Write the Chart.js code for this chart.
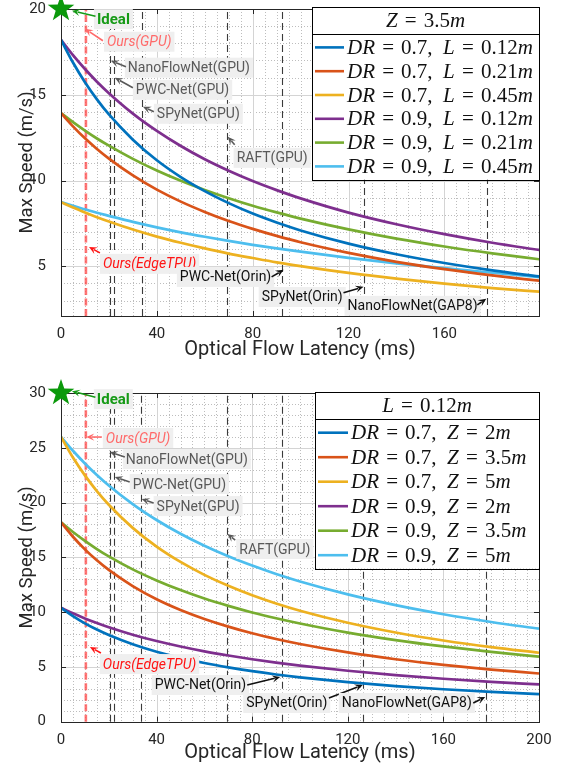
<!DOCTYPE html>
<html>
<head>
<meta charset="utf-8">
<script src="https://cdn.jsdelivr.net/npm/chart.js@4.4.1/dist/chart.umd.min.js"></script>
<style>
  body{margin:0;background:#fff;width:561px;height:766px;overflow:hidden;position:relative;}
  .panel{position:absolute;left:0;width:561px;}
</style>
</head>
<body>
<div class="panel" style="top:0;height:362px"><canvas id="chartTop"></canvas></div>
<div class="panel" style="top:362px;height:404px"><canvas id="chartBottom"></canvas></div>
<script>
// latency samples (ms) the curves were read at
const latencyMs = [0,5,10,15,20,30,40,50,60,70,80,90,100,120,140,160,180,200];

// top panel, Z = 3.5m
const topDR07_L012 = [18.20,16.88,15.73,14.73,13.85,12.38,11.18,10.20,9.38,8.68,8.07,7.55,7.09,6.32,5.70,5.19,4.76,4.40];
const topDR07_L021 = [13.93,13.16,12.46,11.84,11.28,10.30,9.47,8.77,8.17,7.64,7.18,6.77,6.40,5.78,5.26,4.83,4.47,4.15];
const topDR07_L045 = [8.74,8.43,8.13,7.86,7.61,7.14,6.73,6.37,6.04,5.74,5.48,5.23,5.01,4.61,4.28,3.99,3.73,3.51];
const topDR09_L012 = [18.20,17.31,16.50,15.76,15.09,13.90,12.89,12.01,11.24,10.57,9.97,9.44,8.96,8.13,7.45,6.87,6.37,5.94];
const topDR09_L021 = [13.93,13.40,12.91,12.45,12.03,11.26,10.58,9.98,9.45,8.97,8.53,8.14,7.78,7.15,6.61,6.15,5.75,5.40];
const topDR09_L045 = [8.74,8.52,8.32,8.12,7.94,7.59,7.27,6.98,6.72,6.48,6.25,6.04,5.85,5.49,5.17,4.89,4.62,4.36];

// bottom panel, L = 0.12m
const botDR07_Z2  = [10.39,9.64,8.98,8.41,7.91,7.07,6.39,5.83,5.36,4.96,4.61,4.31,4.05,3.61,3.25,2.96,2.72,2.51];
const botDR07_Z35 = [18.20,16.88,15.73,14.73,13.85,12.38,11.18,10.20,9.38,8.68,8.07,7.55,7.09,6.32,5.70,5.19,4.76,4.40];
const botDR07_Z5  = [26.00,24.11,22.48,21.05,19.80,17.69,15.98,14.58,13.40,12.40,11.54,10.79,10.13,9.03,8.14,7.41,6.80,6.29];
const botDR09_Z2  = [10.40,9.89,9.43,9.01,8.62,7.94,7.36,6.86,6.42,6.04,5.70,5.39,5.12,4.65,4.25,3.92,3.64,3.40];
const botDR09_Z35 = [18.20,17.31,16.50,15.76,15.09,13.90,12.89,12.01,11.24,10.57,9.97,9.44,8.96,8.13,7.45,6.87,6.37,5.94];
const botDR09_Z5  = [26.00,24.73,23.57,22.52,21.56,19.86,18.41,17.15,16.06,15.10,14.25,13.48,12.80,11.62,10.64,9.81,9.10,8.49];

const legendDR = ['0.7','0.7','0.7','0.9','0.9','0.9'];
const topLegendL = ['0.12','0.21','0.45','0.12','0.21','0.45'];
const botLegendZ = ['2','3.5','5','2','3.5','5'];

// method latencies (ms) marked by vertical lines
const oursEdgeLatency = 10.4;
const otherLatencies = [20.4, 22.2, 33.6, 69.4, 92.4, 126.4, 178];

const lineColors = ['#0072BD','#D95319','#EDB120','#7E2F8E','#77AC30','#4DBEEE'];

const topNotes = [
  {text:'Ideal', kind:'ideal', at:[15.0,19.41], tail:[14.4,19.58], tip:[4.6,19.9]},
  {text:'Ours(GPU)', kind:'oursGpu', at:[19.2,18.09], tail:[17.5,18.15], tip:[10.0,18.85]},
  {text:'NanoFlowNet(GPU)', kind:'gpu', at:[27.9,16.58], tail:[27.1,16.63], tip:[20.8,16.98]},
  {text:'PWC-Net(GPU)', kind:'gpu', at:[31.25,15.29], tail:[30.0,15.41], tip:[22.5,15.99]},
  {text:'SPyNet(GPU)', kind:'gpu', at:[40,13.89], tail:[38.75,14.01], tip:[34.2,14.30]},
  {text:'RAFT(GPU)', kind:'gpu', at:[73.3,11.32], tail:[72.5,12.08], tip:[69.6,12.55]},
  {text:'Ours(EdgeTPU)', kind:'edge', at:[17.5,5.14], tail:[16.25,5.78], tip:[11.7,6.13]},
  {text:'PWC-Net(Orin)', kind:'dev', at:[49.6,4.38], tail:[87.9,4.38], tip:[92.9,4.79]},
  {text:'SPyNet(Orin)', kind:'dev', at:[83.75,3.21], tail:[117.9,3.45], tip:[126.25,3.80]},
  {text:'NanoFlowNet(GAP8)', kind:'dev', at:[119.6,2.69], tail:[173.75,2.75], tip:[177.5,3.10]}
];
const bottomNotes = [
  {text:'Ideal', kind:'ideal', at:[15.0,29.44], tail:[14.4,29.62], tip:[4.6,30.17]},
  {text:'Ours(GPU)', kind:'oursGpu', at:[18.75,25.89], tail:[17.1,25.98], tip:[10.6,25.98]},
  {text:'NanoFlowNet(GPU)', kind:'gpu', at:[27.1,23.97], tail:[26.7,24.15], tip:[20.4,24.61]},
  {text:'PWC-Net(GPU)', kind:'gpu', at:[30,21.69], tail:[28.75,21.87], tip:[22.5,22.33]},
  {text:'SPyNet(GPU)', kind:'gpu', at:[40,19.68], tail:[38.75,19.96], tip:[33.75,20.32]},
  {text:'RAFT(GPU)', kind:'gpu', at:[74.6,15.76], tail:[72.9,16.58], tip:[69.6,17.13]},
  {text:'Ours(EdgeTPU)', kind:'edge', at:[17.5,5.26], tail:[16.7,6.27], tip:[12.1,6.82]},
  {text:'PWC-Net(Orin)', kind:'dev', at:[39.2,3.35], tail:[77.9,3.35], tip:[91.7,4.08]},
  {text:'SPyNet(Orin)', kind:'dev', at:[77.5,1.71], tail:[112.1,2.16], tip:[126.25,3.35]},
  {text:'NanoFlowNet(GAP8)', kind:'dev', at:[117.5,1.71], tail:[172.5,1.71], tip:[177.5,2.26]}
];

const noteStyle = {
  ideal:   {color:'#169a16', font:'bold 15px Roboto'},
  oursGpu: {color:'#ff6a6a', font:'italic 14px Roboto'},
  gpu:     {color:'#595959', font:'14px Roboto'},
  edge:    {color:'#ff1414', font:'italic 14px Roboto'},
  dev:     {color:'#111111', font:'14px Roboto'}
};

const AXIS = '#262626';
const SERIF = '"Liberation Serif"';
const OP_GAP = 0.34;

function mathWidth(ctx, segs, size){
  let w = 0;
  for (const [t,k] of segs){
    if (k === 's'){ w += size*t; continue; }
    ctx.font = (k==='i' ? 'italic ' : '') + size + 'px ' + SERIF;
    w += ctx.measureText(t).width + (k==='o' ? size*OP_GAP*2 : 0);
  }
  return w;
}

function drawMath(ctx, segs, x, y, size){
  let cx = x;
  ctx.textBaseline = 'middle'; ctx.textAlign = 'left'; ctx.fillStyle = '#111';
  for (const [t,k] of segs){
    if (k === 's'){ cx += size*t; continue; }
    ctx.font = (k==='i' ? 'italic ' : '') + size + 'px ' + SERIF;
    if (k === 'o') cx += size*OP_GAP;
    ctx.fillText(t, cx, y);
    cx += ctx.measureText(t).width + (k==='o' ? size*OP_GAP : 0);
  }
}

function arrow(ctx, x0, y0, x1, y1, color){
  const ang = Math.atan2(y1-y0, x1-x0), len = 8, half = 3.6;
  ctx.strokeStyle = color; ctx.fillStyle = color; ctx.lineWidth = 1.6; ctx.setLineDash([]);
  ctx.beginPath(); ctx.moveTo(x0,y0);
  ctx.lineTo(x1 - Math.cos(ang)*len*0.7, y1 - Math.sin(ang)*len*0.7); ctx.stroke();
  ctx.beginPath();
  ctx.moveTo(x1, y1);
  ctx.lineTo(x1 - Math.cos(ang)*len - Math.sin(ang)*half, y1 - Math.sin(ang)*len + Math.cos(ang)*half);
  ctx.lineTo(x1 - Math.cos(ang)*len*0.6, y1 - Math.sin(ang)*len*0.6);
  ctx.lineTo(x1 - Math.cos(ang)*len + Math.sin(ang)*half, y1 - Math.sin(ang)*len - Math.cos(ang)*half);
  ctx.closePath(); ctx.fill();
}

function star(ctx, cx, cy, r){
  ctx.beginPath();
  for (let i=0;i<10;i++){
    const rr = i%2 ? r*0.4 : r;
    const a = -Math.PI/2 + i*Math.PI/5;
    ctx.lineTo(cx + rr*Math.cos(a), cy + rr*Math.sin(a));
  }
  ctx.closePath();
  ctx.fillStyle = '#0b990b'; ctx.fill();
}

function matlabLook(p){
  return {
    id: 'matlabLook',
    beforeDatasetsDraw(chart){
      const {ctx, chartArea:a, scales:{x, y}} = chart;
      ctx.save();
      ctx.lineWidth = 1;
      // minor dotted grid
      ctx.strokeStyle = '#bdbdbd'; ctx.setLineDash([1,2]);
      for (let v = 5; v < x.max; v += 5){
        if (v % 40 === 0) continue;
        const px = Math.round(x.getPixelForValue(v)) + 0.5;
        ctx.beginPath(); ctx.moveTo(px, a.top); ctx.lineTo(px, a.bottom); ctx.stroke();
      }
      for (let v = Math.ceil(y.min); v < y.max; v += 1){
        if (v % 5 === 0) continue;
        const py = Math.round(y.getPixelForValue(v)) + 0.5;
        ctx.beginPath(); ctx.moveTo(a.left, py); ctx.lineTo(a.right, py); ctx.stroke();
      }
      // major grid
      ctx.setLineDash([]); ctx.strokeStyle = '#d4d4d4';
      p.xTicks.forEach(v => {
        const px = Math.round(x.getPixelForValue(v)) + 0.5;
        ctx.beginPath(); ctx.moveTo(px, a.top); ctx.lineTo(px, a.bottom); ctx.stroke();
      });
      p.yTicks.forEach(v => {
        const py = Math.round(y.getPixelForValue(v)) + 0.5;
        ctx.beginPath(); ctx.moveTo(a.left, py); ctx.lineTo(a.right, py); ctx.stroke();
      });
      // latency markers
      ctx.strokeStyle = '#3a3a3a'; ctx.lineWidth = 1.1; ctx.setLineDash([7,4]);
      otherLatencies.forEach(v => {
        const px = Math.round(x.getPixelForValue(v)) + 0.5;
        ctx.beginPath(); ctx.moveTo(px, a.bottom); ctx.lineTo(px, a.top); ctx.stroke();
      });
      ctx.strokeStyle = 'rgba(255,70,70,0.75)'; ctx.lineWidth = 2.6; ctx.setLineDash([7,3.5]);
      const ox = x.getPixelForValue(oursEdgeLatency);
      ctx.beginPath(); ctx.moveTo(ox, a.bottom); ctx.lineTo(ox, a.top); ctx.stroke();
      ctx.restore();
    },
    afterDatasetsDraw(chart){
      const {ctx, chartArea:a, scales:{x, y}} = chart;
      ctx.save();
      ctx.setLineDash([]);
      // axes box + inward ticks
      ctx.strokeStyle = AXIS; ctx.lineWidth = 1;
      ctx.strokeRect(Math.round(a.left)+0.5, Math.round(a.top)+0.5, Math.round(a.right-a.left), Math.round(a.bottom-a.top));
      p.xTicks.forEach(v => {
        const px = Math.round(x.getPixelForValue(v)) + 0.5;
        ctx.beginPath(); ctx.moveTo(px, a.bottom); ctx.lineTo(px, a.bottom-5);
        ctx.moveTo(px, a.top); ctx.lineTo(px, a.top+5); ctx.stroke();
      });
      p.yTicks.forEach(v => {
        const py = Math.round(y.getPixelForValue(v)) + 0.5;
        ctx.beginPath(); ctx.moveTo(a.left, py); ctx.lineTo(a.left+5, py);
        ctx.moveTo(a.right, py); ctx.lineTo(a.right-5, py); ctx.stroke();
      });
      // annotations
      p.notes.forEach(n => {
        const st = noteStyle[n.kind];
        ctx.font = st.font;
        const w = ctx.measureText(n.text).width;
        const tx = x.getPixelForValue(n.at[0]), ty = y.getPixelForValue(n.at[1]);
        ctx.fillStyle = '#efefef'; ctx.fillRect(tx-3, ty-10, w+6, 20);
        ctx.fillStyle = st.color; ctx.textBaseline = 'middle'; ctx.textAlign = 'left';
        ctx.fillText(n.text, tx, ty+1);
        arrow(ctx, x.getPixelForValue(n.tail[0]), y.getPixelForValue(n.tail[1]),
              x.getPixelForValue(n.tip[0]), y.getPixelForValue(n.tip[1]), st.color);
      });
      star(ctx, x.getPixelForValue(0), y.getPixelForValue(y.max), 14);
      // legend
      const L = p.legend, size = L.fontSize;
      const top = a.top + L.topOff, right = a.right;
      const bottom = top + L.titleH + 13.4 + (L.entries.length-1)*L.rowH + 13.3;
      ctx.fillStyle = '#fff'; ctx.fillRect(L.left, top, right-L.left, bottom-top);
      ctx.strokeStyle = '#000'; ctx.lineWidth = 1;
      ctx.strokeRect(L.left+0.5, Math.round(top)+0.5, right-L.left, Math.round(bottom-top));
      ctx.beginPath(); ctx.moveTo(L.left, Math.round(top+L.titleH)+0.5); ctx.lineTo(right, Math.round(top+L.titleH)+0.5); ctx.stroke();
      const tw = mathWidth(ctx, L.title, size);
      drawMath(ctx, L.title, (L.left+right)/2 - tw/2, top + L.titleH/2 + 1, size);
      L.entries.forEach((segs, i) => {
        const cy = top + L.titleH + 13.4 + i*L.rowH;
        ctx.strokeStyle = lineColors[i]; ctx.lineWidth = 2.6;
        ctx.beginPath(); ctx.moveTo(L.left+3, cy); ctx.lineTo(L.left+3+L.sample, cy); ctx.stroke();
        drawMath(ctx, segs, L.left+6+L.sample, cy+1, size);
      });
      ctx.restore();
    }
  };
}

function buildConfig(p){
  return {
    type: 'line',
    data: {
      datasets: p.series.map((vals, i) => ({
        data: latencyMs.map((t, j) => ({x: t, y: vals[j]})),
        borderColor: lineColors[i],
        borderWidth: 2.7,
        pointRadius: 0,
        fill: false,
        cubicInterpolationMode: 'monotone'
      }))
    },
    options: {
      responsive: true,
      maintainAspectRatio: false,
      animation: false,
      layout: {padding: {left: 16, right: 22, top: p.padTop, bottom: p.padBottom}},
      plugins: {legend: {display: false}, tooltip: {enabled: false}},
      scales: {
        x: {
          type: 'linear', min: 0, max: p.xMax,
          grid: {display: false}, border: {display: false},
          afterBuildTicks: s => { s.ticks = p.xTicks.map(v => ({value: v})); },
          afterFit: s => { s.height = p.xAxisH; s.paddingLeft = 0; s.paddingRight = 0; },
          ticks: {font: {family: 'Roboto', size: 15, lineHeight: 1}, color: AXIS, padding: 3, maxRotation: 0, autoSkip: false},
          title: {display: true, text: 'Optical Flow Latency (ms)', font: {family: 'Roboto', size: 20}, color: AXIS, padding: 0}
        },
        y: {
          type: 'linear', min: p.yMin, max: p.yMax,
          grid: {display: false}, border: {display: false},
          afterBuildTicks: s => { s.ticks = p.yTicks.map(v => ({value: v})); },
          afterFit: s => { s.width = 45; s.paddingTop = 0; s.paddingBottom = 0; },
          ticks: {font: {family: 'Roboto', size: 15, lineHeight: 1}, color: AXIS, padding: 7, autoSkip: false},
          title: {display: true, text: 'Max Speed (m/s)', font: {family: 'Roboto', size: 18.5}, color: AXIS, padding: 0}
        }
      }
    },
    plugins: [matlabLook(p)]
  };
}

const topPanel = {
  series: [topDR07_L012, topDR07_L021, topDR07_L045, topDR09_L012, topDR09_L021, topDR09_L045],
  xMax: 199.5, xTicks: [0,40,80,120,160],
  yMin: 2.1, yMax: 20, yTicks: [5,10,15,20],
  padTop: 9, padBottom: 0, xAxisH: 46,
  notes: topNotes,
  legend: {
    left: 312, topOff: -2, titleH: 27, rowH: 23.8, sample: 29, fontSize: 21,
    title: [['Z','i'],['=','o'],['3.5','r'],['m','i']],
    entries: legendDR.map((d, i) => [['DR','i'],['=','o'],[d+',','r'],[0.5,'s'],['L','i'],['=','o'],[topLegendL[i],'r'],['m','i']])
  }
};
const bottomPanel = {
  series: [botDR07_Z2, botDR07_Z35, botDR07_Z5, botDR09_Z2, botDR09_Z35, botDR09_Z5],
  xMax: 200, xTicks: [0,40,80,120,160,200],
  yMin: 0, yMax: 30, yTicks: [0,5,10,15,20,25,30],
  padTop: 31, padBottom: 1, xAxisH: 43.3,
  notes: bottomNotes,
  legend: {
    left: 315, topOff: -1, titleH: 27.3, rowH: 24.5, sample: 30, fontSize: 21,
    title: [['L','i'],['=','o'],['0.12','r'],['m','i']],
    entries: legendDR.map((d, i) => [['DR','i'],['=','o'],[d+',','r'],[0.5,'s'],['Z','i'],['=','o'],[botLegendZ[i],'r'],['m','i']])
  }
};

new Chart(document.getElementById('chartTop'), buildConfig(topPanel));
new Chart(document.getElementById('chartBottom'), buildConfig(bottomPanel));
</script>
</body>
</html>
